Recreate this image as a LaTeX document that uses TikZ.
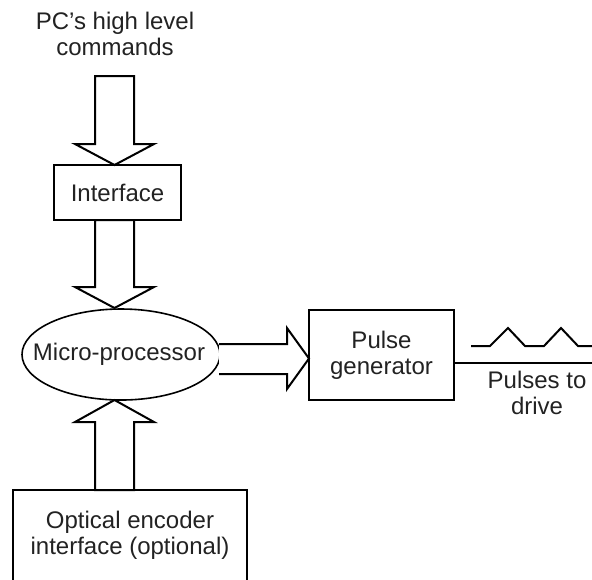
\documentclass[tikz,border=0pt]{standalone}
\usepackage{fontspec}
\setmainfont{Liberation Sans}
\usetikzlibrary{shapes.geometric}
\definecolor{txt}{HTML}{222222}
\begin{document}
\begin{tikzpicture}[x=0.5pt,y=-0.5pt,
  lbl/.style={font=\fontsize{12}{13}\selectfont, text=txt, align=center, inner sep=0pt},
  boxs/.style={draw, line width=1pt, inner sep=0pt, font=\fontsize{12}{13}\selectfont, text=txt, align=center},
  blk/.style={draw, line width=1pt, line join=miter, fill=white}]
\useasboundingbox (0,0) rectangle (592,579);
% nodes
\node[lbl] (cmd) at (115,34) {PC’s high level\\commands};
\node[boxs, minimum width=63.5pt, minimum height=27.5pt] (iface) at (117.5,192.5) {Interface};
\node[draw, ellipse, line width=0.8pt, inner sep=0pt, minimum width=99pt, minimum height=45.5pt] (micro) at (121,354.5) {};
\node[lbl] (microtxt) at (119,354.5) {Micro-processor};
\node[boxs, minimum width=72.5pt, minimum height=45pt] (pulse) at (381.5,355) {Pulse\\generator};
\node[lbl] (optical) at (130,535) {Optical encoder\\interface (optional)};
\node[lbl] (drive) at (537,393) {Pulses to\\drive};
% optical box (cut at bottom)
\draw[line width=1pt] (13,590) -- (13,490) -- (247,490) -- (247,590);
% block arrows
\draw[blk] (95,76) -- (134,76) -- (134,144) -- (154,144) -- (114.5,165) -- (75,144) -- (95,144) -- cycle;
\draw[blk] (95,220) -- (134,220) -- (134,287) -- (154,287) -- (114.5,308) -- (75,287) -- (95,287) -- cycle;
\draw[blk] (95,490) -- (134,490) -- (134,422) -- (154,422) -- (114.5,400) -- (75,422) -- (95,422) -- cycle;
\draw[blk] (219,344) -- (287,344) -- (287,328) -- (309,358.5) -- (287,389) -- (287,374) -- (219,374);
% output line and pulses
\coordinate (outend) at (592,363);
\draw[line width=1pt] (pulse.east |- outend) -- (outend);
\draw[line width=1pt] (471,346) -- (490,346) -- (508,328) -- (525,346) -- (544,346) -- (561,328) -- (578,346) -- (592,346);
\end{tikzpicture}
\end{document}
